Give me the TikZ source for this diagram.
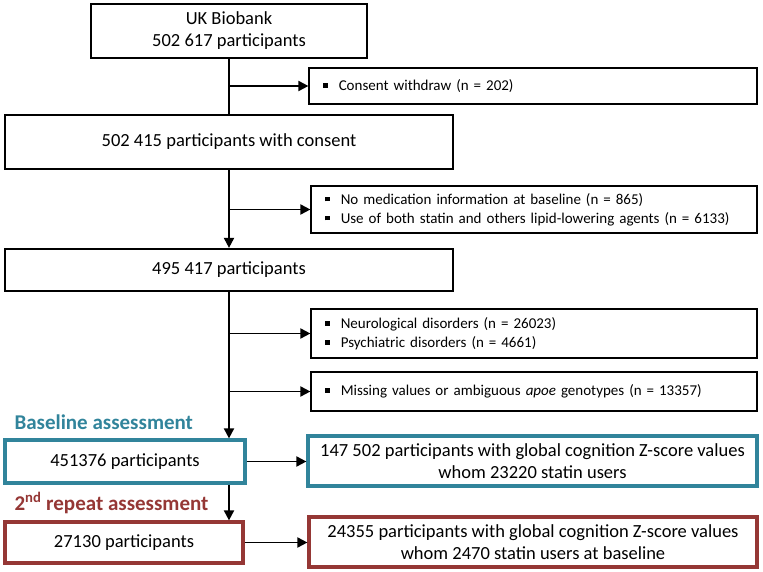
\documentclass[tikz,border=0pt]{standalone}
\usepackage{fontspec}
\setmainfont{Carlito}
\usetikzlibrary{arrows.meta}
\definecolor{teal1}{HTML}{31849B}
\definecolor{red1}{HTML}{953735}
\newcommand{\sqb}{\rule[0.18em]{0.3em}{0.3em}\hspace{0.75em}}
\begin{document}
\begin{tikzpicture}[x=1pt,y=-1pt,
  mainbox/.style={draw, line width=2.2pt, inner sep=0pt, align=center, font=\fontsize{18.5}{22}\selectfont},
  exbox/.style={draw, line width=1.2pt, inner sep=0pt, align=left, font=\fontsize{15}{19}\selectfont},
  tealbox/.style={draw=teal1, line width=3.2pt, inner sep=0pt, align=center, font=\fontsize{18.5}{22}\selectfont},
  redbox/.style={draw=red1, line width=3.2pt, inner sep=0pt, align=center, font=\fontsize{18.5}{22}\selectfont},
  arr/.style={line width=1.9pt, -{Triangle[length=10pt,width=10pt]}},
  ln/.style={line width=1.9pt},
  lab/.style={font=\fontsize{21}{25}\selectfont\bfseries, anchor=west}]
\useasboundingbox (0,0) rectangle (763,572);
% main boxes
\node[mainbox, minimum width=276pt, minimum height=54pt] (b1) at (229,31) {UK Biobank\\502 617 participants};
\node[mainbox, minimum width=448pt, minimum height=54pt] (b2) at (229,142) {502 415 participants with consent};
\node[mainbox, minimum width=448pt, minimum height=42pt] (b3) at (229,270) {495 417 participants};
\node[tealbox, minimum width=240pt, minimum height=43pt] (b4) at (125,461.5) {451376 participants};
\node[redbox, minimum width=238pt, minimum height=41pt] (b5) at (124,542.5) {27130 participants};
% exclusion boxes
\node[exbox, minimum width=448pt, minimum height=36pt, text width=420pt] (e1) at (533,86) {\sqb Consent withdraw (n = 202)};
\node[exbox, minimum width=446pt, minimum height=47pt, text width=418pt] (e2) at (534,209.5) {\sqb No medication information at baseline (n = 865)\\\sqb Use of both statin and others lipid-lowering agents (n = 6133)};
\node[exbox, minimum width=446pt, minimum height=49pt, text width=418pt] (e3) at (534,333.5) {\sqb Neurological disorders (n = 26023)\\\sqb Psychiatric disorders (n = 4661)};
\node[exbox, minimum width=446pt, minimum height=39pt, text width=418pt] (e4) at (534,391.5) {\sqb Missing values or ambiguous \emph{apoe} genotypes (n = 13357)};
% result boxes
\node[tealbox, minimum width=449pt, minimum height=50pt] (r1) at (532.5,461) {147 502 participants with global cognition Z-score values\\whom 23220 statin users};
\node[redbox, minimum width=448pt, minimum height=50pt] (r2) at (533,542) {24355 participants with global cognition Z-score values\\whom 2470 statin users at baseline};
% labels
\node[lab, text=teal1] (l1) at (11,422) {Baseline assessment};
\node[lab, text=red1] (l2) at (11,503) {2\textsuperscript{nd} repeat assessment};
% connectors
\draw[ln] (b1.south) -- (b2.north);
\draw[arr] (b1.south |- e1.west) -- (e1.west);
\draw[arr] (b2.south) -- (b3.north);
\draw[arr] (b2.south |- e2.west) -- (e2.west);
\draw[arr] (b3.south) -- (b3.south |- b4.north);
\draw[arr] (b3.south |- e3.west) -- (e3.west);
\draw[arr] (b3.south |- e4.west) -- (e4.west);
\draw[arr] (b4.south -| b3.south) -- (b3.south |- b5.north);
\draw[arr] (b4.east) -- (b4.east -| r1.west);
\draw[arr] (b5.east) -- (b5.east -| r2.west);
\end{tikzpicture}
\end{document}
